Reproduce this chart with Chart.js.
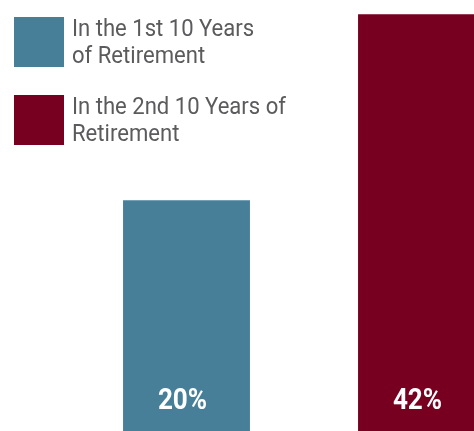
<!DOCTYPE html>
<html>
<head>
<meta charset="utf-8">
<script src="https://cdn.jsdelivr.net/npm/chart.js@4"></script>
<style>
  html, body { margin: 0; padding: 0; background: #fff; overflow: hidden; }
  #frame { width: 474px; height: 431px; overflow: hidden; position: relative; }
  #chartBox { width: 539px; height: 431px; }
</style>
</head>
<body>
<div id="frame">
  <div id="chartBox"><canvas id="myChart" width="539" height="431"></canvas></div>
</div>
<script>
// share of retirement spending, by period
const periods = [
    ['In the 1st 10 Years', 'of Retirement'],
    ['In the 2nd 10 Years of', 'Retirement']
];
const shares = [20, 42];

const colors = ['#477f98', '#770020'];
const axisMin = -7.3;   // bars are not drawn from zero
const axisMax = 43.7;

// legend in the top left corner, two lines per entry
const legendBoxes = {
    id: 'legendBoxes',
    afterDraw(chart) {
        const ctx = chart.ctx;
        ctx.save();
        periods.forEach(function (lines, i) {
            const top = 17 + i * 78;
            ctx.fillStyle = colors[i];
            ctx.fillRect(14, top, 50, 50);
            ctx.fillStyle = '#5b5b5d';
            ctx.font = '24px Roboto';
            ctx.textBaseline = 'alphabetic';
            lines.forEach(function (line, j) {
                ctx.save();
                ctx.translate(72, top + 19 + j * 27);
                ctx.scale(0.92, 1);
                ctx.fillText(line, 0, 0);
                ctx.restore();
            });
        });
        ctx.restore();
    }
};

// percentage written inside the foot of each bar
const barValues = {
    id: 'barValues',
    afterDatasetsDraw(chart) {
        const ctx = chart.ctx;
        const meta = chart.getDatasetMeta(0);
        ctx.save();
        ctx.fillStyle = '#ffffff';
        ctx.font = 'bold 29px Roboto';
        ctx.textAlign = 'center';
        ctx.textBaseline = 'alphabetic';
        meta.data.forEach(function (bar, i) {
            ctx.save();
            ctx.translate(bar.x - 4, 409);
            ctx.scale(0.9, 1);
            ctx.fillText(shares[i] + '%', 0, 0);
            ctx.restore();
        });
        ctx.restore();
    }
};

const chart = new Chart(document.getElementById('myChart'), {
    type: 'bar',
    data: {
        labels: periods,
        datasets: [{
            data: shares,
            backgroundColor: colors,
            base: axisMin,
            borderWidth: 0,
            categoryPercentage: 1,
            barPercentage: 0.54
        }]
    },
    options: {
        responsive: false,
        animation: false,
        layout: { padding: { left: 69, right: 0, top: 0, bottom: 0 } },
        plugins: {
            legend: { display: false },
            tooltip: { enabled: false }
        },
        scales: {
            x: { display: false },
            y: { display: false, min: axisMin, max: axisMax }
        }
    },
    plugins: [legendBoxes, barValues]
});
</script>
</body>
</html>
